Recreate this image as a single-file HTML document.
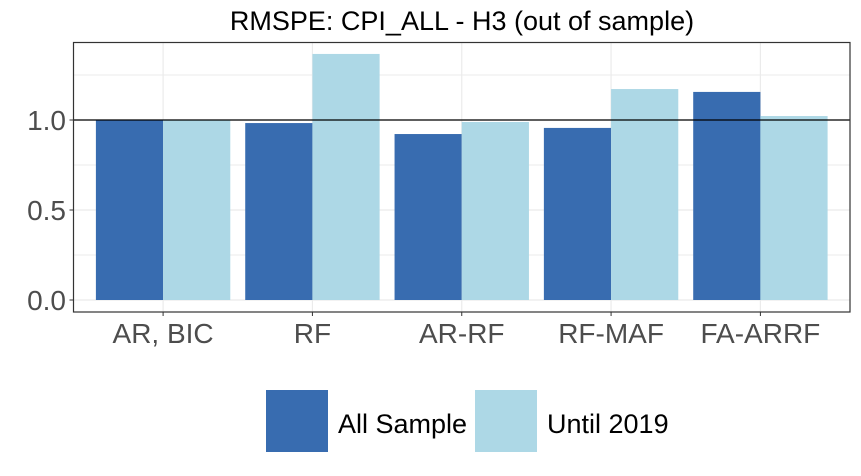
<!DOCTYPE html>
<html><head><style>
body{margin:0;background:#fff;font-family:"Liberation Sans",Arial,sans-serif}
</style></head><body>
<svg width="861" height="471" xmlns="http://www.w3.org/2000/svg" id="svg">
<text x="462" y="30" text-anchor="middle" font-size="27" fill="#000">RMSPE: CPI_ALL - H3 (out of sample)</text>
<g id="grid"></g><g id="bars"></g><g id="axes"></g>
<g>
<rect x="266" y="390" width="62" height="62" fill="#386CB0"/>
<text x="338" y="433" font-size="27" fill="#000">All Sample</text>
<rect x="475" y="390" width="62" height="62" fill="#ADD8E6"/>
<text x="547" y="433" font-size="27" fill="#000">Until 2019</text>
</g>
</svg>
<script>
const categories=["AR, BIC","RF","AR-RF","RF-MAF","FA-ARRF"];
const allSample=[1.0,0.983,0.922,0.956,1.156];
const until2019=[1.0,1.367,0.989,1.172,1.022];
const yTicks=[0,0.5,1.0];
const yTickLabels=["0.0","0.5","1.0"];
const NS="http://www.w3.org/2000/svg";
const L=73.5,R=850,T=42.5,B=312;
const y=v=>300-v*180;
const step=(R-L)/5.2;
const x=i=>L+step*(0.6+i);
const bw=step*0.45;
function mk(tag,attrs,parent){const e=document.createElementNS(NS,tag);for(const k in attrs)e.setAttribute(k,attrs[k]);document.getElementById(parent).appendChild(e);return e;}
for(let v=0.25;v<1.5;v+=0.5){const g=mk('line',{x1:L,x2:R,y1:y(v),y2:y(v),stroke:'#EBEBEB','stroke-width':1},'grid');

}
yTicks.forEach(v=>{const g=mk('line',{x1:L,x2:R,y1:y(v),y2:y(v),stroke:'#EBEBEB','stroke-width':1.2},'grid');

});
categories.forEach((c,i)=>{const g=mk('line',{x1:x(i),x2:x(i),y1:T,y2:B,stroke:'#EBEBEB','stroke-width':1.2},'grid');

});
categories.forEach((c,i)=>{
 const a=mk('rect',{x:x(i)-bw,y:y(allSample[i]),width:bw,height:y(0)-y(allSample[i]),fill:'#386CB0'},'bars');
 
 
 const b=mk('rect',{x:x(i),y:y(until2019[i]),width:bw,height:y(0)-y(until2019[i]),fill:'#ADD8E6'},'bars');
 
 
 const t=mk('text',{x:x(i),y:343,'text-anchor':'middle','font-size':28,fill:'#4D4D4D'},'axes');t.textContent=c;
 
 
 const tk=mk('line',{x1:x(i),x2:x(i),y1:B,y2:B+4,stroke:'#333','stroke-width':1},'axes');
 
 
});
const h=mk('line',{x1:L,x2:R,y1:y(1),y2:y(1),stroke:'#000','stroke-width':1.2},'axes');


yTicks.forEach((v,i)=>{
 const t=mk('text',{x:66,y:y(v)+10,'text-anchor':'end','font-size':28,fill:'#4D4D4D'},'axes');t.textContent=yTickLabels[i];
 
 
 const tk=mk('line',{x1:L-4,x2:L,y1:y(v),y2:y(v),stroke:'#333','stroke-width':1},'axes');
 
 
});
const p=mk('rect',{x:L,y:T,width:R-L,height:B-T,fill:'none',stroke:'#333','stroke-width':1.2},'axes');


</script>
</body></html>
